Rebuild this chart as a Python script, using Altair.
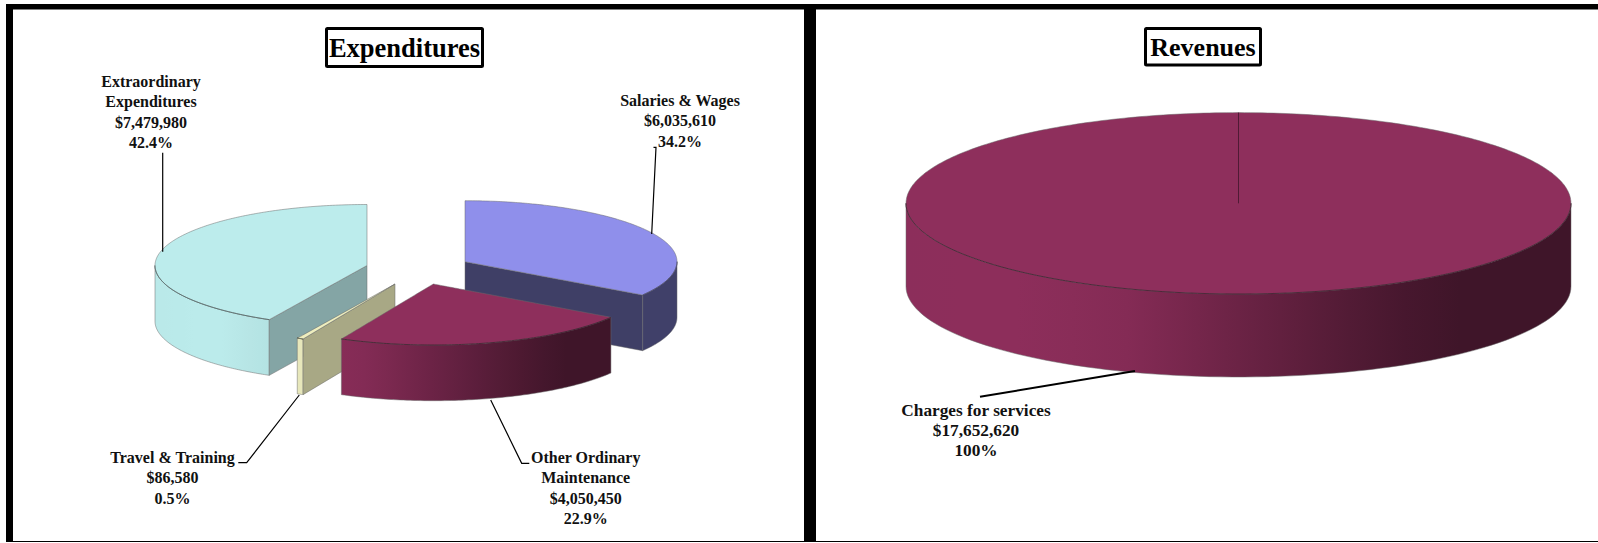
import numpy as np
import pandas as pd
import altair as alt

# Amounts behind each pie, in clockwise order from twelve o'clock
exp_names = ["Salaries & Wages", "Other Ordinary Maintenance", "Travel & Training", "Extraordinary Expenditures"]
exp_amounts = [6035610, 4050450, 86580, 7479980]
exp_pct_text = ["34.2%", "22.9%", "0.5%", "42.4%"]
rev_names = ["Charges for services"]
rev_amounts = [17652620]
rev_pct_text = ["100%"]

# Face colours per slice
top_colors = ["#8F8FEB", "#8E2F5C", "#EEEEBE", "#BCECEC"]
cut_colors = ["#3F3F66", "#3F152A", "#A8A885", "#84A5A5"]
wall_colors = ["#8F8FEB", "#8E2F5C", "#F2F2C4", "#BCECEC"]

PANEL_H = 543
LEFT_X = (0, 810)
RIGHT_X = (810, 1598)
EXP_SHAPE = dict(rx=212.0, ry=61.0, depth=55.7)
REV_SHAPE = dict(rx=332.5, ry=90.7, depth=83.0)
# Hub of each exploded slice on the top plane
EXP_HUBS = [(465.0, 261.7), (433.3, 284.0), (395.0, 284.0), (367.0, 265.5)]
REV_HUB = (1238.5, 203.3)


def arc(hub, shape, a0, a1, n=90):
    a = np.radians(np.linspace(a0, a1, n))
    return hub[0] + shape["rx"] * np.sin(a), hub[1] - shape["ry"] * np.cos(a)


def envelope(px, py):
    """Upper and lower outline of a convex polygon, sampled along x."""
    xs = np.unique(np.round(px, 3))
    rows = []
    qx, qy = np.roll(px, -1), np.roll(py, -1)
    for x in xs:
        hits = []
        for x0, y0, x1, y1 in zip(px, py, qx, qy):
            lo, hi = min(x0, x1), max(x0, x1)
            if lo - 1e-3 <= x <= hi + 1e-3:
                if abs(x1 - x0) < 1e-6:
                    hits += [y0, y1]
                else:
                    hits.append(y0 + (y1 - y0) * (x - x0) / (x1 - x0))
        rows.append((x, min(hits), max(hits)))
    return pd.DataFrame(rows, columns=["x", "y", "y2"])


def shade(t):
    return np.interp(t, [-1, -0.7, -0.35, 0, 0.3, 0.6, 1], [0.99, 1, 0.94, 0.76, 0.6, 0.45, 0.45])


def scaled(hex_color, k):
    r, g, b = (int(hex_color[i:i + 2], 16) for i in (1, 3, 5))
    return "#%02x%02x%02x" % (int(r * k), int(g * k), int(b * k))


def wall_fill(base, hub, shape, x_lo, x_hi):
    stops = []
    for off in np.linspace(0, 1, 13):
        t = (x_lo + (x_hi - x_lo) * off - hub[0]) / shape["rx"]
        stops.append(alt.GradientStop(offset=float(off), color=scaled(base, float(shade(t)))))
    return alt.LinearGradient(gradient="linear", stops=stops, x1=0, x2=1, y1=0, y2=0)


def panel(layers, dom):
    x_scale = alt.Scale(domain=list(dom), nice=False, zero=False)
    y_scale = alt.Scale(domain=[PANEL_H, 0], nice=False, zero=False)

    def x_enc(f="x"):
        return alt.X(f"{f}:Q", scale=x_scale, axis=None)

    def y_enc(f="y"):
        return alt.Y(f"{f}:Q", scale=y_scale, axis=None)

    charts = []
    for kind, df, opts in layers:
        if kind == "area":
            ch = alt.Chart(df).mark_area(**opts).encode(x_enc(), y_enc(), y2="y2:Q")
        elif kind == "line":
            ch = alt.Chart(df).mark_line(**opts).encode(x_enc(), y_enc(), order="i:Q")
        elif kind == "rect":
            ch = alt.Chart(df).mark_rect(**opts).encode(x_enc(), y_enc(), x2="x2:Q", y2="y2:Q")
        elif kind == "text":
            ch = alt.Chart(df).mark_text(**opts).encode(x_enc(), y_enc(), text="t:N")
        charts.append(ch)
    return alt.layer(*charts).properties(width=dom[1] - dom[0], height=PANEL_H)


EDGE = dict(stroke="#6a6a6a", strokeWidth=0.5)


def slice_layers(a0, a1, hub, shape, top, wall, cut, cut_at=None):
    out = []
    depth = shape["depth"]
    lo, hi = max(a0, 90.0), min(a1, 270.0)
    if lo < hi:
        ax, ay = arc(hub, shape, lo, hi)
        df = pd.DataFrame({"x": ax, "y": ay, "y2": ay + depth}).sort_values("x")
        fill = wall_fill(wall, hub, shape, float(ax.min()), float(ax.max()))
        out.append(("area", df, dict(fill=fill, **EDGE)))
    if cut_at is not None:
        ex, ey = arc(hub, shape, cut_at, cut_at, 1)
        df = pd.DataFrame({"x": [hub[0], ex[0]], "y": [hub[1], ey[0]],
                           "y2": [hub[1] + depth, ey[0] + depth]}).sort_values("x")
        out.append(("area", df, dict(fill=cut, **EDGE)))
    ax, ay = arc(hub, shape, a0, a1, 180)
    if a1 - a0 < 359:
        px, py = np.r_[hub[0], ax], np.r_[hub[1], ay]
    else:
        px, py = ax, ay
    out.append(("area", envelope(px, py), dict(fill=top, **EDGE)))
    if lo < hi:
        ax, ay = arc(hub, shape, lo, hi)
        rim = pd.DataFrame({"x": ax, "y": ay, "i": np.arange(len(ax))})
        out.append(("line", rim, dict(stroke=scaled(wall, 0.4), strokeWidth=0.7)))
    return out


def leader(points, width=1.2):
    df = pd.DataFrame(points, columns=["x", "y"])
    df["i"] = range(len(df))
    return ("line", df, dict(stroke="#000000", strokeWidth=width))


def label(lines, cx, y_first, step=20.35, size=16):
    df = pd.DataFrame({"x": cx, "y": [y_first + k * step for k in range(len(lines))], "t": lines})
    return ("text", df, dict(font="Liberation Serif", fontWeight="bold", fontSize=size,
                             color="#111111", align="center", baseline="middle"))


def title_box(text, x0, x1, y0, y1, size):
    box = pd.DataFrame({"x": [x0], "x2": [x1], "y": [y0], "y2": [y1]})
    txt = pd.DataFrame({"x": [(x0 + x1) / 2], "y": [(y0 + y1) / 2 + 1], "t": [text]})
    return [("rect", box, dict(fill="#ffffff", stroke="#000000", strokeWidth=3, cornerRadius=1)),
            ("text", txt, dict(font="Liberation Serif", fontWeight="bold", fontSize=size,
                               color="#000000", align="center", baseline="middle"))]


def frame(x0, x1, bars):
    rows = [(x0, x1, 4, 9.5), (x0, x1, 541, 542)] + bars
    return ("rect", pd.DataFrame(rows, columns=["x", "x2", "y", "y2"]), dict(fill="#000000"))


def money(v):
    return f"${v:,}"


# Expenditures pie: slice spans come straight from the amounts
total = sum(exp_amounts)
edges = np.cumsum([0] + exp_amounts) / total * 360.0
spans = [(float(edges[i]), float(edges[i + 1])) for i in range(4)]
cuts = [spans[0][1], None, spans[2][0], spans[3][0]]

left = [frame(LEFT_X[0] + 6, LEFT_X[1], [(6, 13, 4, 542), (804, 810, 4, 542)])]
for i in [0, 3, 2, 1]:
    left += slice_layers(spans[i][0], spans[i][1], EXP_HUBS[i], EXP_SHAPE,
                         top_colors[i], wall_colors[i], cut_colors[i], cuts[i])
left += title_box("Expenditures", 326.5, 482.5, 28.5, 66.5, 26.5)
left += [
    leader([(162.7, 152.7), (162.7, 251.7)]),
    leader([(653.5, 147.3), (656, 147.3), (651.7, 234)]),
    leader([(238.3, 462.7), (246.7, 462.7), (299.3, 395)]),
    leader([(490.7, 400), (521.7, 463.3), (529.3, 463.3)]),
    label(["Extraordinary", "Expenditures", money(exp_amounts[3]), exp_pct_text[3]], 151, 82),
    label(["Salaries & Wages", money(exp_amounts[0]), exp_pct_text[0]], 680, 101),
    label(["Travel & Training", money(exp_amounts[2]), exp_pct_text[2]], 172.5, 458),
    label(["Other Ordinary", "Maintenance", money(exp_amounts[1]), exp_pct_text[1]], 585.7, 458),
]

# Revenues pie: a single full slice with its seam drawn from hub to rim
right = [frame(RIGHT_X[0], RIGHT_X[1], [(810, 816, 4, 542)])]
right += slice_layers(0.0, 360.0, REV_HUB, REV_SHAPE, top_colors[1], wall_colors[1], cut_colors[1])
seam_top = REV_HUB[1] - REV_SHAPE["ry"]
seam = pd.DataFrame({"x": [REV_HUB[0], REV_HUB[0]], "y": [REV_HUB[1], seam_top], "i": [0, 1]})
right.append(("line", seam, dict(stroke="#3F152A", strokeWidth=0.8)))
right += title_box("Revenues", 1145.5, 1260.5, 28.5, 65, 26)
right += [
    leader([(980, 396.7), (1135, 371)], 2),
    label([rev_names[0], money(rev_amounts[0]), rev_pct_text[0]], 976, 410.5, size=17.3),
]

chart = (
    alt.hconcat(panel(left, LEFT_X), panel(right, RIGHT_X), spacing=0)
    .properties(padding=0, background="#ffffff", bounds="flush")
    .configure_view(stroke=None)
)
chart.save("out.html", embed_options={"renderer": "svg", "actions": False})
